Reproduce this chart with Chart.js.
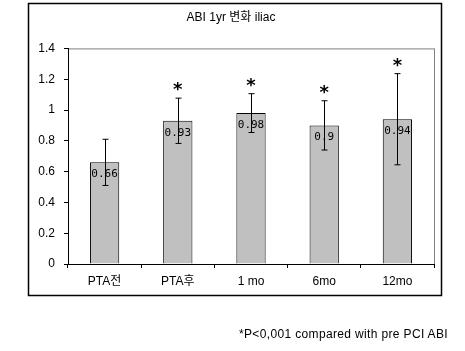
<!DOCTYPE html>
<html lang="ko">
<head>
<meta charset="UTF-8">
<title>ABI 1yr 변화 iliac</title>
<script src="https://cdn.jsdelivr.net/npm/chart.js@4.4.0/dist/chart.umd.min.js"></script>
<style>
  html, body { margin: 0; padding: 0; background: #fff; }
  .wrap { position: relative; width: 465px; height: 351px; }
  #abiChart { position: absolute; left: 0; top: 0; }
  .note { position: absolute; left: 239px; top: 327px; font: 12px "Liberation Sans", Arial, sans-serif; letter-spacing: 0.35px; color: #000; white-space: nowrap; }
</style>
</head>
<body>
<div class="wrap">
  <canvas id="abiChart" width="465" height="351"></canvas>
  <div class="note">*P&lt;0,001 compared with pre PCI ABI</div>
</div>

<script>
const labels = ['PTA전', 'PTA후', '1 mo', '6mo', '12mo'];
const means = [0.66, 0.93, 0.98, 0.90, 0.94];
const sd = [0.15, 0.147, 0.126, 0.16, 0.296];
const starred = [false, true, true, true, true];
const yTicks = [0, 0.2, 0.4, 0.6, 0.8, 1, 1.2, 1.4];

const FONT = '"Liberation Sans", "Noto Sans CJK KR", sans-serif';

// outer box + grey plot border
const frame = {
  id: 'frame',
  beforeDraw(chart) {
    const ctx = chart.ctx, a = chart.chartArea;
    ctx.save();
    ctx.fillStyle = '#fff';
    ctx.fillRect(0, 0, chart.width, chart.height);
    ctx.strokeStyle = '#000';
    ctx.lineWidth = 1.5;
    ctx.strokeRect(28.5, 3.5, 413, 292);
    ctx.strokeStyle = '#808080';
    ctx.lineWidth = 1;
    ctx.strokeRect(a.left + 0.5, a.top + 0.5, a.right - a.left, a.bottom - a.top);
    ctx.restore();
  }
};

// error bars, value labels and asterisks
const extras = {
  id: 'extras',
  afterDatasetsDraw(chart) {
    const ctx = chart.ctx, y = chart.scales.y;
    const bars = chart.getDatasetMeta(0).data;
    ctx.save();
    bars.forEach((bar, i) => {
      const x = Math.round(bar.x) + 0.5;
      const top = y.getPixelForValue(means[i] + sd[i]);
      const bot = y.getPixelForValue(means[i] - sd[i]);
      ctx.strokeStyle = '#000';
      ctx.lineWidth = 1;
      ctx.beginPath();
      ctx.moveTo(x, top); ctx.lineTo(x, bot);
      ctx.moveTo(x - 3, top); ctx.lineTo(x + 3, top);
      ctx.moveTo(x - 3, bot); ctx.lineTo(x + 3, bot);
      ctx.stroke();

      ctx.fillStyle = '#000';
      ctx.textAlign = 'center';
      ctx.textBaseline = 'middle';
      ctx.font = '11px "DejaVu Sans Mono", monospace';
      ctx.fillText(String(means[i]), bar.x, bar.y + 12);

      if (starred[i]) {
        ctx.font = 'bold 18px "DejaVu Sans", sans-serif';
        ctx.textBaseline = 'alphabetic';
        ctx.fillText('*', bar.x, top - 3);
      }
    });
    ctx.restore();
  }
};

new Chart(document.getElementById('abiChart'), {
  type: 'bar',
  data: {
    labels,
    datasets: [{
      data: means,
      backgroundColor: '#c0c0c0',
      borderColor: '#000',
      borderWidth: 1,
      barPercentage: 0.4,
      categoryPercentage: 1
    }]
  },
  options: {
    responsive: false,
    animation: false,
    layout: { padding: { left: 28, right: 31, top: 5, bottom: 62 } },
    plugins: {
      legend: { display: false },
      tooltip: { enabled: false },
      title: {
        display: true,
        text: 'ABI 1yr 변화 iliac',
        color: '#000',
        font: { family: FONT, size: 12, weight: 'normal' },
        padding: { top: 5, bottom: 24 }
      }
    },
    scales: {
      x: {
        afterFit: s => { s.height = 25; },
        grid: { drawOnChartArea: false, tickLength: 4, color: '#000', offset: true },
        border: { color: '#000' },
        ticks: { color: '#000', padding: 6, font: { family: FONT, size: 12 } }
      },
      y: {
        min: 0,
        max: 1.4,
        afterBuildTicks: s => { s.ticks = yTicks.map(v => ({ value: v })); },
        afterFit: s => { s.width = 40; },
        grid: { drawOnChartArea: false, tickLength: 4, color: '#000' },
        border: { color: '#000' },
        ticks: { color: '#000', padding: 9, font: { family: FONT, size: 12 }, callback: v => String(v) }
      }
    }
  },
  plugins: [frame, extras]
});
</script>
</body>
</html>
